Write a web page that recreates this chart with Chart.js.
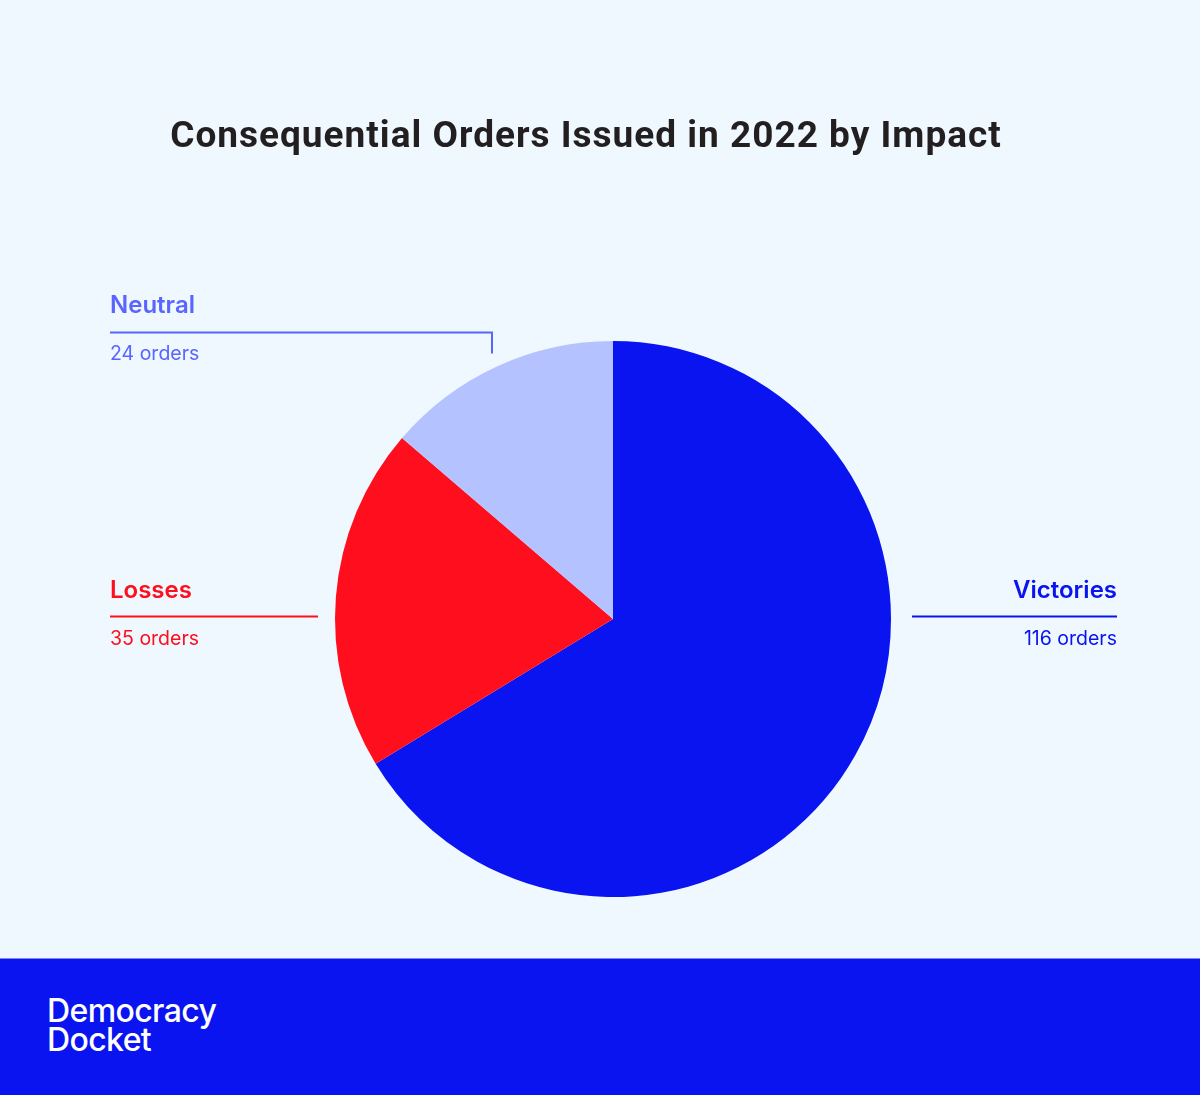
<!DOCTYPE html>
<html>
<head>
<meta charset="utf-8">
<script src="https://cdn.jsdelivr.net/npm/chart.js@4/dist/chart.umd.min.js"></script>
<style>
  html, body { margin: 0; padding: 0; }
  body { width: 1200px; height: 1095px; background: #eef8fe; position: relative; overflow: hidden; }
  #wrap { position: absolute; left: 0; top: 0; width: 1200px; height: 958px; }
  #footer { position: absolute; left: 0; top: 958px; width: 1200px; height: 137px; background: #0a14f0; border-top: 1px solid #7f86f6; box-sizing: border-box; }
  #logo { position: absolute; left: 47px; top: 37px; color: #fff; font-family: "Inter", sans-serif; font-weight: 500; font-size: 32px; line-height: 29px; letter-spacing: -0.6px; }
</style>
</head>
<body>
<div id="wrap"><canvas id="ImpactPie"></canvas></div>
<div id="footer"><div id="logo">Democracy<br>Docket</div></div>
<script>
var categories = ['Victories', 'Losses', 'Neutral'];
var orderCounts = [116, 35, 24];
var sliceColors = ['#0a14f0', '#ff0f1e', '#b4c3ff'];
var labelColors = ['#0a14f0', '#ff0f1e', '#5a64ff'];

// labels + leader lines, drawn after the pie
var labelPlugin = {
    id: 'impactLabels',
    afterDraw: function (chart) {
        var ctx = chart.ctx;
        ctx.save();
        ctx.fillStyle = '#231f20';
        ctx.font = 'bold 37px "Roboto", sans-serif';
        ctx.letterSpacing = '1px';
        ctx.textAlign = 'center';
        ctx.textBaseline = 'alphabetic';
        ctx.fillText('Consequential Orders Issued in 2022 by Impact', 586, 147);
        ctx.letterSpacing = '0px';

        var spots = [
            { i: 0, x: 1117, y: 598, align: 'right', line: [[912, 616], [1117, 616]] },
            { i: 1, x: 110, y: 598, align: 'left', line: [[110, 616], [318, 616]] },
            { i: 2, x: 110, y: 313, align: 'left', line: [[110, 332], [492, 332], [492, 353]] }
        ];
        spots.forEach(function (s) {
            ctx.fillStyle = labelColors[s.i];
            ctx.strokeStyle = labelColors[s.i];
            ctx.textAlign = s.align;
            ctx.font = '600 24px "Inter", sans-serif';
            ctx.fillText(categories[s.i], s.x, s.y);
            ctx.font = '19.5px "Inter", sans-serif';
            ctx.fillText(orderCounts[s.i] + ' orders', s.x, s.y + 47);
            ctx.lineWidth = 2;
            ctx.beginPath();
            s.line.forEach(function (p, k) {
                if (k == 0) ctx.moveTo(p[0], p[1] + 0.5); else ctx.lineTo(p[0], p[1] + 0.5);
            });
            ctx.stroke();
        });
        ctx.restore();
    }
};

new Chart(document.getElementById('ImpactPie'), {
    type: 'pie',
    data: {
        labels: categories,
        datasets: [
            {
                data: orderCounts,
                backgroundColor: sliceColors,
                borderWidth: 0
            }
        ]
    },
    options: {
        responsive: true,
        maintainAspectRatio: false,
        animation: false,
        layout: {
            padding: { top: 341, bottom: 61, left: 335, right: 309 }
        },
        plugins: {
            legend: { display: false },
            tooltip: { enabled: false }
        }
    },
    plugins: [labelPlugin]
});
</script>
</body>
</html>
